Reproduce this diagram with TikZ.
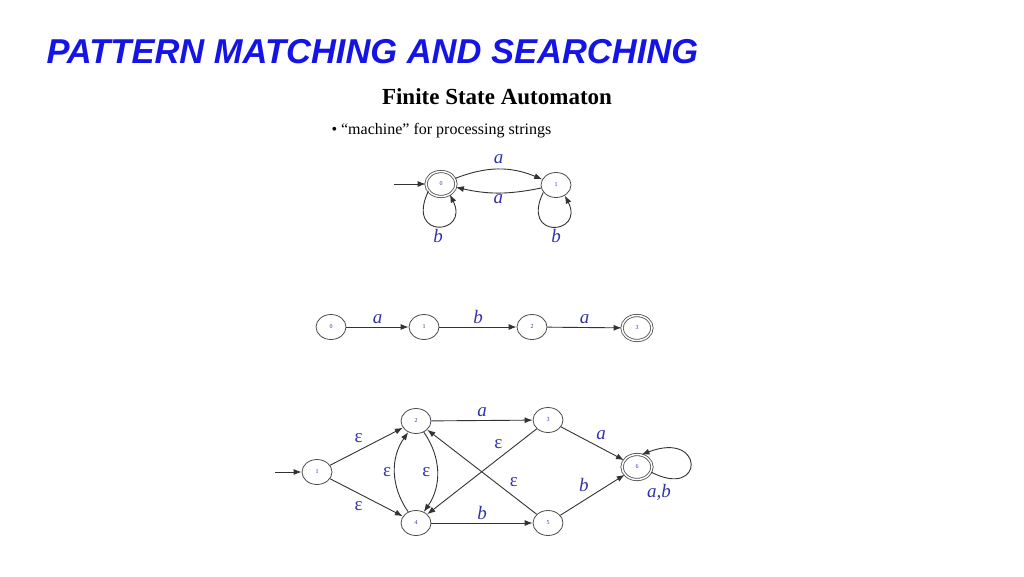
\documentclass[tikz,border=0pt]{standalone}
\usepackage{fontspec}
\setmainfont{Liberation Serif}
\newfontfamily\titlefont{Liberation Sans}
\usetikzlibrary{shapes.geometric,arrows.meta}
\definecolor{tblue}{RGB}{20,20,230}
\definecolor{lblue}{RGB}{50,50,170}
\begin{document}
\begin{tikzpicture}[x=1pt,y=-1pt,
  st/.style={draw=black!70,line width=0.8pt,ellipse,minimum width=30pt,minimum height=25pt,inner sep=0pt,font=\fontsize{6}{6}\selectfont,text=lblue},
  acc/.style={st,double,double distance=1.5pt},
  lab/.style={font=\itshape\fontsize{19}{19}\selectfont,text=lblue},
  eps/.style={font=\fontsize{19}{19}\selectfont,text=lblue},
  ed/.style={draw=black!80,-{Latex[length=8pt,width=6pt]},line width=0.9pt}]
\useasboundingbox (0,0) rectangle (1024,576);
\fill[white] (0,0) rectangle (1024,576);
\node[anchor=west,text=tblue,font=\titlefont\bfseries\itshape\fontsize{34.5}{34.5}\selectfont] (title) at (43,52) {PATTERN MATCHING AND SEARCHING};
\node[font=\bfseries\fontsize{23}{23}\selectfont] (sub) at (497,97) {Finite State Automaton};
\node[anchor=west,font=\fontsize{16}{16}\selectfont] (bul) at (328,131) {\textbullet\ “machine” for processing strings};
% top
\node[acc] (a0) at (441,184) {0};
\node[st] (a1) at (556,185) {1};
\coordinate (ain) at (394,184);
\draw[ed] (ain) -- (a0);
\draw[ed] (a0) to[bend left=22] node[lab,above,yshift=2pt] {a} (a1);
\draw[ed] (a1) to[bend left=12] node[lab,below,yshift=2pt] {a} (a0);
\draw[ed] (a0.210) .. controls (405,240) and (470,235) .. (a0.-50);
\draw[ed] (a1.210) .. controls (520,240) and (585,235) .. (a1.-50);
\node[lab] (lb0) at (438,236) {b};
\node[lab] (lb1) at (556,236) {b};
% middle
\node[st] (m0) at (331,327) {0};
\node[st] (m1) at (424,327) {1};
\node[st] (m2) at (532,327) {2};
\node[acc] (m3) at (637,328) {3};
\draw[ed] (m0) -- node[lab,above] {a} (m1);
\draw[ed] (m1) -- node[lab,above] {b} (m2);
\draw[ed] (m2) -- node[lab,above] {a} (m3);
% bottom
\node[st] (b1) at (317,472) {1};
\node[st] (b2) at (416,421) {2};
\node[st] (b3) at (548,420) {3};
\node[st] (b4) at (416,523) {4};
\node[st] (b5) at (548,523) {5};
\node[acc] (b6) at (637,467) {6};
\coordinate (bin) at (275,472);
\draw[ed] (bin) -- (b1);
\draw[ed] (b1) -- node[eps,above left] {ɛ} (b2);
\draw[ed] (b1) -- node[eps,below left] {ɛ} (b4);
\draw[ed] (b2) -- node[lab,above] {a} (b3);
\draw[ed] (b4) -- node[lab,above] {b} (b5);
\draw[ed] (b4) to[bend left=35] node[eps,left] {ɛ} (b2);
\draw[ed] (b2) to[bend left=35] node[eps,left,xshift=-3pt] {ɛ} (b4);
\draw[ed] (b3) -- node[eps,pos=0.28,above left] {ɛ} (b4);
\draw[ed] (b5) -- node[eps,pos=0.28,above right] {ɛ} (b2);
\draw[ed] (b3) -- node[lab,above right] {a} (b6);
\draw[ed] (b5) -- node[lab,above left] {b} (b6);
\draw[ed] (b6.-20) .. controls (705,500) and (705,430) .. (b6.70);
\node[lab] (lab6) at (659,492) {a,b};
\end{tikzpicture}
\end{document}
